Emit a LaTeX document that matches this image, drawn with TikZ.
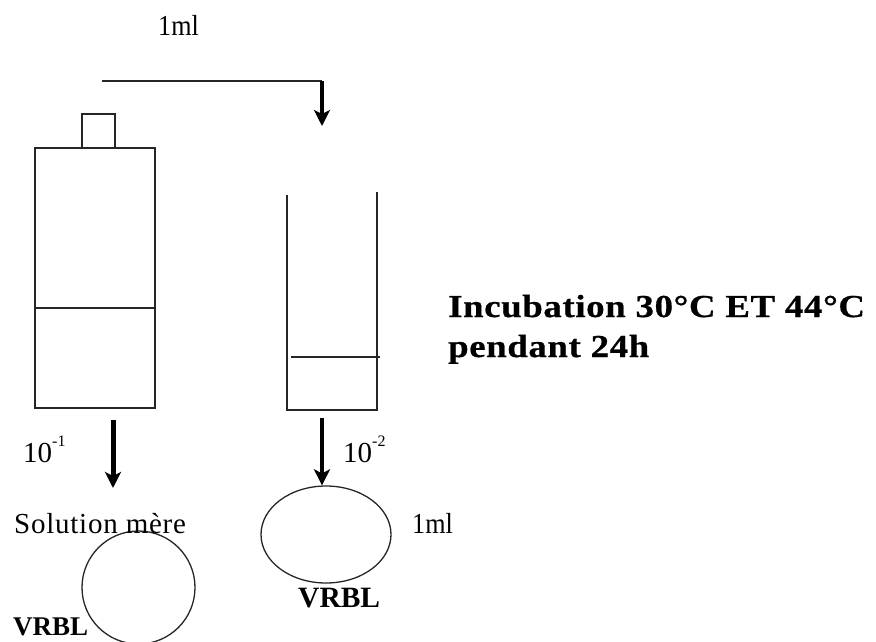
\documentclass[tikz,border=0pt]{standalone}
\usepackage{fontspec}
\setmainfont{Liberation Serif}
\newfontfamily\narrowserif[FakeStretch=0.9]{Liberation Serif}
\newfontfamily\wideserif[LetterSpace=2.6]{Liberation Serif}
\newfontfamily\widebold[LetterSpace=2,FakeStretch=1.15,FakeBold=0.6]{Liberation Serif Bold}
\usetikzlibrary{arrows.meta,shapes.geometric}
\tikzset{
  outline/.style={draw=black!85,line width=1.5pt},
  roundout/.style={draw=black!85,line width=1.3pt},
  flow/.style={draw=black,line width=3.2pt,-{Stealth[length=16pt,width=16pt,inset=4pt]}},
  flowthick/.style={draw=black,line width=5pt,-{Stealth[length=16pt,width=16pt,inset=4pt]}},
  lbl/.style={inner sep=0pt,anchor=base west,font=\fontsize{29}{32}\narrowserif},
  lblplain/.style={inner sep=0pt,anchor=base west,font=\fontsize{29}{32}\selectfont},
  lblwide/.style={inner sep=0pt,anchor=base west,font=\fontsize{29}{32}\wideserif},
  boldsmall/.style={inner sep=0pt,anchor=base west,font=\fontsize{27}{30}\selectfont\bfseries},
  boldlarge/.style={inner sep=0pt,anchor=base west,font=\fontsize{29.5}{32}\selectfont\bfseries},
  head/.style={inner sep=0pt,anchor=base west,font=\fontsize{32}{36}\widebold}
}
\newcommand{\expo}[1]{\raisebox{16pt}{\fontsize{16}{18}\selectfont #1}}
\begin{document}
\begin{tikzpicture}[x=1pt,y=-1pt]
\useasboundingbox (0,0) rectangle (876,641);
\clip (0,0) rectangle (876,641);
% bottle
\node[outline,minimum width=120pt,minimum height=260pt,inner sep=0pt] (bottle) at (95,278) {};
\node[outline,minimum width=33pt,minimum height=34pt,inner sep=0pt] (cap) at (98.5,131) {};
\coordinate (bl) at (35,308); \coordinate (br) at (155,308);
\draw[outline] (bl) -- (br);
% tube
\coordinate (t1) at (287,195); \coordinate (t2) at (287,410);
\coordinate (t3) at (377,410); \coordinate (t4) at (377,192);
\draw[outline] (t1) -- (t2) -- (t3) -- (t4);
\coordinate (l1) at (291,357); \coordinate (l2) at (380,357);
\draw[outline] (l1) -- (l2);
% top transfer
\coordinate (a0) at (102,81); \coordinate (a1) at (322,81); \coordinate (a2) at (322,126);
\draw[outline] (a0) -- (a1);
\draw[flow] (a1) -- (a2);
% dishes
\node[roundout,circle,minimum size=113pt,inner sep=0pt] (dish1) at (138.5,587.5) {};
\node[roundout,ellipse,minimum width=130pt,minimum height=97pt,inner sep=0pt] (dish2) at (326,534.5) {};
% down arrows
\coordinate (d1) at (113,420); \coordinate (d2) at (113,488);
\draw[flowthick] (d1) -- (d2);
\coordinate (d3) at (322,418);
\draw[flow] (d3) -- (dish2.north -| d3);
% labels
\node[lbl] (ml1) at (158,35) {1ml};
\node[lblplain] (e1) at (23,462) {10\expo{-1}};
\node[lblplain] (e2) at (343,462) {10\expo{-2}};
\node[lblwide] (sol) at (14,533) {Solution mère};
\node[lbl] (ml2) at (412,533) {1ml};
\node[boldsmall] (v1) at (13,635) {VRBL};
\node[boldlarge] (v2) at (298,607) {VRBL};
\node[head] (inc) at (448,317) {Incubation 30°C ET 44°C};
\node[head] (pen) at (448,357) {pendant 24h};
\end{tikzpicture}
\end{document}
